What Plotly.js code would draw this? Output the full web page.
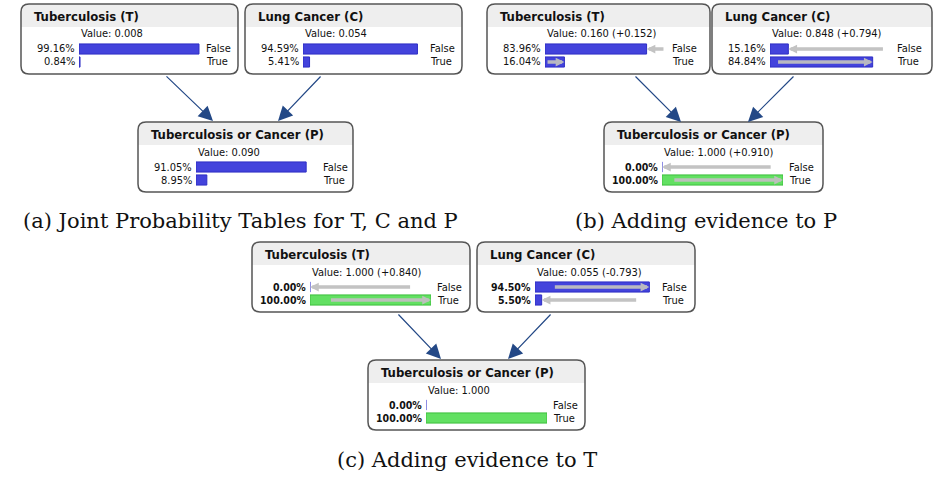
<!DOCTYPE html>
<html>
<head>
<meta charset="utf-8">
<script src="https://cdn.plot.ly/plotly-3.0.1.min.js"></script>
<style>html,body{margin:0;padding:0;background:#fff;}#chart{width:937px;height:479px;}</style>
</head>
<body>
<div id="chart"></div>
<script>
// ---- data ----
const nodeNames = ["Tuberculosis (T)", "Lung Cancer (C)", "Tuberculosis or Cancer (P)",
                   "Tuberculosis (T)", "Lung Cancer (C)", "Tuberculosis or Cancer (P)",
                   "Tuberculosis (T)", "Lung Cancer (C)", "Tuberculosis or Cancer (P)"];
const states = ["False", "True"];
const pFalse = [99.16, 94.59, 91.05, 83.96, 15.16, 0.00, 0.00, 94.50, 0.00];
const pTrue  = [0.84, 5.41, 8.95, 16.04, 84.84, 100.00, 100.00, 5.50, 100.00];
const prevFalse = [null, null, null, 99.16, 94.59, 91.05, 83.96, 15.16, null];
const prevTrue  = [null, null, null, 0.84, 5.41, 8.95, 16.04, 84.84, null];
const valueText = ["0.008", "0.054", "0.090", "0.160 (+0.152)", "0.848 (+0.794)",
                   "1.000 (+0.910)", "1.000 (+0.840)", "0.055 (-0.793)", "1.000"];
const certain = [false, false, false, false, false, true, true, false, true];
const boldPct = [false, false, false, false, false, true, true, true, true];
const captions = ["(a) Joint Probability Tables for T, C and P", "(b) Adding evidence to P", "(c) Adding evidence to T"];

// ---- layout geometry (pixels) ----
const W = 937, H = 479;
const boxL = [21, 245, 138, 487, 712, 604, 252, 477, 368];
const boxT = [4, 4, 122, 4, 4, 122, 242, 242, 360];
const boxW = [217, 217, 215, 223, 220, 219, 218, 218, 217];
const boxH = 70, headH = 23, rad = 8;
const edges = [[165,75,213,121],[322,75,278,121],[634,75,681,122],[795,75,748,122],[397,313,441,359],[552,313,508,359]];
const capPos = [[240,221],[706,221],[467,460]];

const X = p => p / W;
const Y = p => 1 - p / H;
const f = v => v.toFixed(5);

function roundRect(x0, y0, x1, y1, r, topOnly) {
  let s = `M${f(X(x0 + r))},${f(Y(y0))} L${f(X(x1 - r))},${f(Y(y0))} Q${f(X(x1))},${f(Y(y0))} ${f(X(x1))},${f(Y(y0 + r))} `;
  if (topOnly) {
    s += `L${f(X(x1))},${f(Y(y1))} L${f(X(x0))},${f(Y(y1))} `;
  } else {
    s += `L${f(X(x1))},${f(Y(y1 - r))} Q${f(X(x1))},${f(Y(y1))} ${f(X(x1 - r))},${f(Y(y1))} L${f(X(x0 + r))},${f(Y(y1))} Q${f(X(x0))},${f(Y(y1))} ${f(X(x0))},${f(Y(y1 - r))} `;
  }
  s += `L${f(X(x0))},${f(Y(y0 + r))} Q${f(X(x0))},${f(Y(y0))} ${f(X(x0 + r))},${f(Y(y0))} Z`;
  return s;
}

const SANS = "DejaVu Sans Condensed, DejaVu Sans, sans-serif";
const BLUE = "#4343dc", BLUE_LINE = "#2e2ec4";
const GREEN = "#62e062", GREEN_LINE = "#3cbf3c";

const traces = [];
const shapes = [];
const annotations = [];
const layout = {
  width: W, height: H,
  margin: {l: 0, r: 0, t: 0, b: 0, pad: 0},
  paper_bgcolor: "#ffffff", plot_bgcolor: "rgba(0,0,0,0)",
  showlegend: false,
  font: {family: SANS, size: 11, color: "#111"}
};

for (let i = 0; i < nodeNames.length; i++) {
  const k = i + 1;
  const xa = "x" + k, ya = "y" + k;
  const L = boxL[i], T = boxT[i], R = L + boxW[i], B = T + boxH;
  const barX = L + 58;
  // boxes
  shapes.push({type: "path", xref: "paper", yref: "paper", layer: "below", path: roundRect(L, T, R, B, rad, false), fillcolor: "#ffffff", line: {width: 0}});
  shapes.push({type: "path", xref: "paper", yref: "paper", layer: "below", path: roundRect(L, T, R, T + headH, rad, true), fillcolor: "#eeeeee", line: {width: 0}});
  shapes.push({type: "path", xref: "paper", yref: "paper", layer: "below", path: roundRect(L, T, R, B, rad, false), fillcolor: "rgba(0,0,0,0)", line: {color: "#555555", width: 1.5}});

  layout["xaxis" + (k === 1 ? "" : k)] = {
    domain: [X(barX), X(barX + 121)], range: [0, 100], visible: false, fixedrange: true, anchor: ya
  };
  layout["yaxis" + (k === 1 ? "" : k)] = {
    domain: [Y(T + 64.5), Y(T + 38.5)], range: [-0.5, 1.5], visible: false, fixedrange: true, anchor: xa
  };

  const vals = [pFalse[i], pTrue[i]];
  const rows = [1, 0];
  const colors = vals.map((v, j) => (certain[i] && j === 1) ? GREEN : BLUE);
  const lcolors = vals.map((v, j) => (certain[i] && j === 1) ? GREEN_LINE : BLUE_LINE);
  traces.push({
    type: "bar", orientation: "h", x: vals, y: rows, xaxis: xa, yaxis: ya, width: 0.78,
    marker: {color: colors, line: {color: lcolors, width: 1}}, hoverinfo: "skip"
  });

  // zero-probability marker
  vals.forEach((v, j) => {
    if (v === 0) {
      shapes.push({type: "line", xref: xa, yref: ya, x0: v, x1: v, y0: rows[j] - 0.39, y1: rows[j] + 0.39, line: {color: "#9c9cea", width: 1.5}});
    }
  });

  // previous-value arrows
  const prev = [prevFalse[i], prevTrue[i]];
  prev.forEach((p, j) => {
    if (p !== null) {
      annotations.push({
        xref: xa, yref: ya, axref: xa, ayref: ya, x: vals[j], y: rows[j], ax: p, ay: rows[j],
        text: "", showarrow: true, arrowhead: 2, arrowsize: 0.5, arrowwidth: 3.5,
        arrowcolor: "rgba(192,192,192,0.95)", standoff: 0, startstandoff: 0
      });
    }
  });

  // texts
  annotations.push({xref: "paper", yref: "paper", x: X(L + 11), y: Y(T + 12.5), xanchor: "left", yanchor: "middle",
    text: nodeNames[i], showarrow: false, font: {family: SANS, size: 13, weight: "bold", color: "#111"}});
  annotations.push({xref: "paper", yref: "paper", x: X(barX), y: Y(T + 30), xanchor: "left", yanchor: "middle",
    text: "Value: " + valueText[i], showarrow: false, font: {family: SANS, size: 11, color: "#111"}});
  vals.forEach((v, j) => {
    annotations.push({xref: xa, yref: ya, x: 0, y: rows[j], xanchor: "right", yanchor: "middle", xshift: -2,
      text: v.toFixed(2) + "%", showarrow: false,
      font: boldPct[i] ? {family: SANS, size: 10.5, weight: "bold", color: "#111"} : {family: SANS, size: 11, color: "#111"}});
    annotations.push({xref: xa, yref: ya, x: 100, y: rows[j], xanchor: "left", yanchor: "middle", xshift: 4,
      text: states[j], showarrow: false, font: {family: SANS, size: 11, color: "#111"}});
  });
}

// edges between nodes
edges.forEach(e => {
  annotations.push({xref: "paper", yref: "paper", x: X(e[2]), y: Y(e[3]), ax: e[0] - e[2], ay: e[1] - e[3],
    axref: "pixel", ayref: "pixel", text: "", showarrow: true, arrowhead: 2, arrowsize: 2.4, arrowwidth: 1.2,
    arrowcolor: "#234886", standoff: 0});
});

// captions
captions.forEach((c, i) => {
  annotations.push({xref: "paper", yref: "paper", x: X(capPos[i][0]), y: Y(capPos[i][1]), xanchor: "center", yanchor: "middle",
    text: c, showarrow: false, font: {family: "DejaVu Serif, Liberation Serif, serif", size: 21, color: "#111"}});
});

layout.shapes = shapes;
layout.annotations = annotations;

Plotly.newPlot("chart", traces, layout, {staticPlot: true, displayModeBar: false});
</script>
</body>
</html>
